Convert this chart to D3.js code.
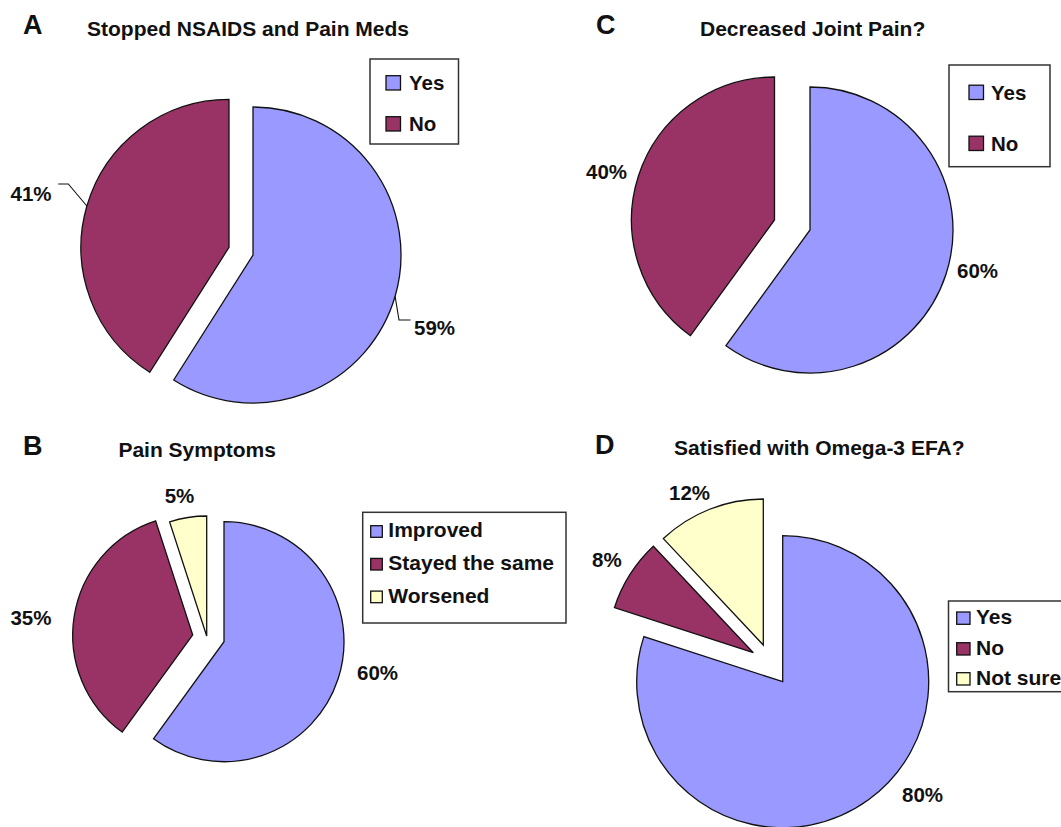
<!DOCTYPE html>
<html>
<head>
<meta charset="utf-8">
<script src="https://cdn.jsdelivr.net/npm/d3@7"></script>
<style>
  html, body { margin: 0; padding: 0; background: #fff; overflow: hidden; }
  svg { display: block; }
  text { font-family: "Liberation Sans", Arial, sans-serif; font-weight: bold; fill: #111; }
</style>
</head>
<body>
<svg id="chart" width="1061" height="827"></svg>
<script>
// ---- data ----
const panelLetters = ["A", "B", "C", "D"];
const panelTitles = [
  "Stopped NSAIDS and Pain Meds",
  "Pain Symptoms",
  "Decreased Joint Pain?",
  "Satisfied with Omega-3 EFA?"
];
const categoriesA = ["Yes", "No"];
const valuesA = [59, 41];
const categoriesB = ["Improved", "Stayed the same", "Worsened"];
const valuesB = [60, 35, 5];
const categoriesC = ["Yes", "No"];
const valuesC = [60, 40];
const categoriesD = ["Yes", "No", "Not sure"];
const valuesD = [80, 8, 12];
const sliceColors = ["#9999FF", "#993366", "#FFFFCC"];

// ---- layout (positions / sizes only) ----
const layout = [
  { // A
    cats: categoriesA, vals: valuesA, letter: 0,
    letterPos: [23, 34], titlePos: [87, 36],
    r: 148, origins: [[253, 255], [229, 247.3]],
    labelPos: [[414, 335], [10.5, 201]],
    leaders: [[[399, 320], [410.5, 320]], [[68.3, 184], [58.3, 184]]],
    legend: { box: [370, 59, 88.5, 85], x: 386, sw: 14.5, sh: 14.3, tx: 409, base: [90, 131], fs: 20.5 }
  },
  { // B
    cats: categoriesB, vals: valuesB, letter: 1,
    letterPos: [23, 455], titlePos: [118.4, 456.7],
    r: 120, origins: [[224, 641.7], [192.7, 635], [206.7, 636]],
    labelPos: [[357, 680], [10.4, 625], [164.7, 503]],
    leaders: null,
    legend: { box: [362.7, 512.3, 203.3, 110.7], x: 370.7, sw: 11.6, sh: 11.6, tx: 388.3, base: [537.3, 570, 602.7], fs: 21 }
  },
  { // C
    cats: categoriesC, vals: valuesC, letter: 2,
    letterPos: [596, 34], titlePos: [700, 36],
    r: 143, origins: [[810, 230], [774.5, 220]],
    labelPos: [[957, 278], [586, 179]],
    leaders: null,
    legend: { box: [949, 65, 101, 101.7], x: 969, sw: 14.5, sh: 14.3, tx: 991, base: [99.5, 150.5], fs: 20.5 }
  },
  { // D
    cats: categoriesD, vals: valuesD, letter: 3,
    letterPos: [595, 454], titlePos: [674, 455],
    r: 146, origins: [[782.7, 681.7], [753.3, 652.7], [763.3, 645]],
    labelPos: [[902, 802], [592, 567], [669, 500]],
    leaders: null,
    legend: { box: [948.5, 601, 140, 90.7], x: 956.7, sw: 13.3, sh: 12.3, tx: 976, base: [624.3, 655, 685], fs: 21 }
  }
];

const svg = d3.select("#chart");
const pie = d3.pie().sort(null).startAngle(0).endAngle(2 * Math.PI).value(d => d);

layout.forEach(p => {
  const g = svg.append("g");
  // panel letter
  g.append("text")
    .attr("x", p.letterPos[0]).attr("y", p.letterPos[1])
    .style("font-size", "27px")
    .text(panelLetters[p.letter]);
  // title
  g.append("text")
    .attr("x", p.titlePos[0]).attr("y", p.titlePos[1])
    .style("font-size", "21px")
    .text(panelTitles[p.letter]);

  const arcs = pie(p.vals);
  const arc = d3.arc().innerRadius(0).outerRadius(p.r);
  const edgeArc = d3.arc().innerRadius(p.r).outerRadius(p.r);

  arcs.forEach((a, i) => {
    const o = p.origins[i];
    g.append("path")
      .attr("transform", `translate(${o[0]},${o[1]})`)
      .attr("d", arc(a))
      .attr("fill", sliceColors[i])
      .attr("stroke", "#111")
      .attr("stroke-width", 1.3)
      .attr("stroke-linejoin", "miter");
  });

  // leader lines
  if (p.leaders) {
    arcs.forEach((a, i) => {
      const o = p.origins[i];
      const c = edgeArc.centroid(a);
      const pts = [[o[0] + c[0], o[1] + c[1]]].concat(p.leaders[i]);
      g.append("path")
        .attr("d", d3.line()(pts))
        .attr("fill", "none")
        .attr("stroke", "#111")
        .attr("stroke-width", 1.1);
    });
  }

  // value labels
  arcs.forEach((a, i) => {
    g.append("text")
      .attr("x", p.labelPos[i][0]).attr("y", p.labelPos[i][1])
      .style("font-size", "20.5px")
      .text(p.vals[i] + "%");
  });

  // legend
  const L = p.legend;
  g.append("rect")
    .attr("x", L.box[0]).attr("y", L.box[1])
    .attr("width", L.box[2]).attr("height", L.box[3])
    .attr("fill", "#fff").attr("stroke", "#333").attr("stroke-width", 1.5);
  p.cats.forEach((c, i) => {
    g.append("rect")
      .attr("x", L.x).attr("y", L.base[i] - L.sh)
      .attr("width", L.sw).attr("height", L.sh)
      .attr("fill", sliceColors[i]).attr("stroke", "#111").attr("stroke-width", 1.3);
    g.append("text")
      .attr("x", L.tx).attr("y", L.base[i])
      .style("font-size", L.fs + "px")
      .text(c);
  });
});
</script>
</body>
</html>
